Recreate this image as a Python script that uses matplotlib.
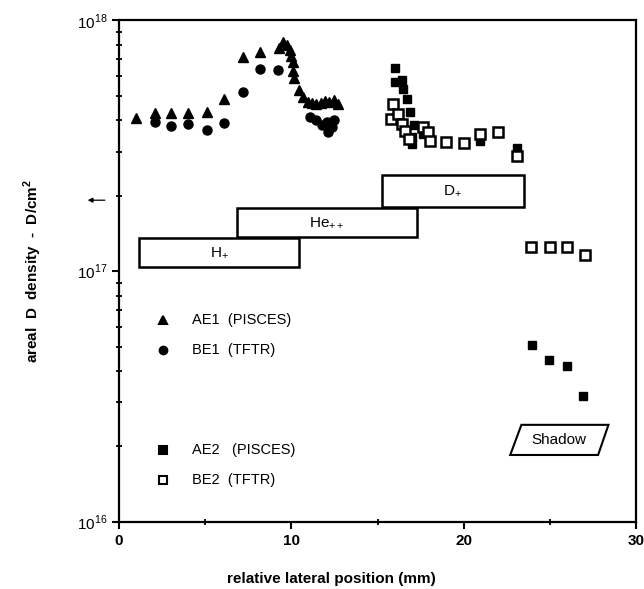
import matplotlib.pyplot as plt
from matplotlib.patches import Rectangle, Polygon

plt.rcParams['font.family'] = ['Liberation Sans', 'DejaVu Sans']
plt.rcParams['mathtext.fontset'] = 'custom'
plt.rcParams['mathtext.rm'] = 'Liberation Sans'
plt.rcParams['mathtext.bf'] = 'Liberation Sans:bold'

# AE1 (PISCES) - triangles
ae1_x = [1.0, 2.1, 3.0, 4.0, 5.1, 6.1, 7.2, 8.2, 9.3, 9.5, 9.75, 9.9, 10.0,
         10.1, 10.1, 10.15, 10.45, 10.7, 10.95, 11.2, 11.45, 11.7, 11.95,
         12.2, 12.45, 12.7]
ae1_y = [4.08e17, 4.26e17, 4.26e17, 4.26e17, 4.3e17, 4.85e17, 7.14e17,
         7.48e17, 7.76e17, 8.2e17, 7.98e17, 7.6e17, 7.2e17, 6.8e17, 6.3e17,
         5.9e17, 5.27e17, 4.95e17, 4.75e17, 4.68e17, 4.64e17, 4.68e17,
         4.77e17, 4.72e17, 4.8e17, 4.64e17]

# BE1 (TFTR) - circles
be1_x = [2.1, 3.0, 4.0, 5.1, 6.1, 7.2, 8.2, 9.2, 11.1, 11.45, 11.75, 12.05,
         12.35, 12.45, 12.15]
be1_y = [3.93e17, 3.79e17, 3.86e17, 3.65e17, 3.89e17, 5.17e17, 6.4e17,
         6.34e17, 4.11e17, 4.0e17, 3.82e17, 3.93e17, 3.75e17, 4.0e17,
         3.58e17]

# AE2 (PISCES) - filled squares
ae2_x = [16.0, 16.0, 16.4, 16.5, 16.7, 16.9, 17.1, 17.0, 17.0, 17.65,
         20.95, 23.1, 23.95, 24.95, 26.0, 26.95]
ae2_y = [6.44e17, 5.69e17, 5.78e17, 5.31e17, 4.88e17, 4.31e17, 3.82e17,
         3.43e17, 3.22e17, 3.53e17, 3.32e17, 3.09e17, 5.09e16, 4.44e16,
         4.18e16, 3.19e16]

# BE2 (TFTR) - open squares
be2_x = [15.9, 15.8, 16.2, 16.4, 16.6, 16.8, 17.65, 17.95, 18.05, 19.0,
         20.0, 20.95, 22.0, 23.1, 23.9, 25.0, 26.0, 27.05]
be2_y = [4.66e17, 4.06e17, 4.25e17, 3.87e17, 3.64e17, 3.38e17, 3.76e17,
         3.59e17, 3.32e17, 3.27e17, 3.24e17, 3.53e17, 3.59e17, 2.89e17,
         1.25e17, 1.25e17, 1.25e17, 1.16e17]

# beam ranges: label, x0, x1, y0, y1
beams = [
    ("H$_{+}$", 1.15, 10.45, 1.04e17, 1.358e17),
    ("He$_{++}$", 6.85, 17.3, 1.37e17, 1.786e17),
    ("D$_{+}$", 15.25, 23.5, 1.80e17, 2.42e17),
]

fig = plt.figure(figsize=(6.44, 5.89), dpi=100)
ax = fig.add_axes([0.1848, 0.1138, 0.8028, 0.8514])
ax.set_yscale('log')
ax.set_xlim(0, 30)
ax.set_ylim(1e16, 1e18)

ax.plot(ae1_x, ae1_y, '^', color='black', ms=7, ls='none')
ax.plot(be1_x, be1_y, 'o', color='black', ms=6.5, ls='none')
ax.plot(ae2_x, ae2_y, 's', color='black', ms=6, ls='none')
ax.plot(be2_x, be2_y, 's', mfc='white', mec='black', mew=1.8, ms=6.5,
        ls='none')

for label, x0, x1, y0, y1 in beams:
    ax.add_patch(Rectangle((x0, y0), x1 - x0, y1 - y0, fill=True,
                           facecolor='white', edgecolor='black', lw=1.8,
                           zorder=3))
    ax.text((x0 + x1) / 2, (y0 * y1) ** 0.5, label, ha='center',
            va='center', fontsize=11, zorder=4)

shadow = Polygon([(22.7, 1.85e16), (23.35, 2.44e16), (28.4, 2.44e16),
                  (27.8, 1.85e16)], closed=True, facecolor='white',
                 edgecolor='black', lw=1.5)
ax.add_patch(shadow)
ax.text(25.55, 2.12e16, "Shadow", ha='center', va='center', fontsize=11)

# key, drawn by hand to keep the gap between the two pairs
key = [
    ('^', 'black', "AE1  (PISCES)", 0.403),
    ('o', 'black', "BE1  (TFTR)", 0.343),
    ('s', 'black', "AE2   (PISCES)", 0.1436),
    ('s', 'white', "BE2  (TFTR)", 0.0837),
]
for marker, face, text, ky in key:
    ax.plot([0.085], [ky], marker, transform=ax.transAxes, mfc=face,
            mec='black', mew=1.5, ms=5.5, clip_on=False)
    ax.text(0.141, ky, text, transform=ax.transAxes, va='center',
            fontsize=10.5)

ax.annotate('', xy=(-0.066, 1.92e17), xytext=(-0.022, 1.92e17),
            xycoords=('axes fraction', 'data'),
            textcoords=('axes fraction', 'data'),
            arrowprops=dict(arrowstyle='-|>', color='black', lw=0.9,
                            mutation_scale=7),
            annotation_clip=False)

for side in ['left', 'bottom', 'top', 'right']:
    ax.spines[side].set_linewidth(1.6)

ax.set_xticks([0, 10, 20, 30])
ax.set_xticks([5, 15, 25], minor=True)
ax.set_xticklabels(['0', '10', '20', '30'], fontweight='bold', fontsize=11)
ax.set_yticks([1e16, 1e17, 1e18])
ax.set_yticklabels(['10$^{16}$', '10$^{17}$', '10$^{18}$'], fontsize=11)
ax.tick_params(axis='both', which='major', direction='out', length=5,
               width=1.5)
ax.tick_params(axis='both', which='minor', direction='inout', length=5,
               width=1.3)
ax.tick_params(axis='y', which='minor', labelleft=False)

ax.set_xlabel("relative lateral position (mm)", fontweight='bold',
              fontsize=11)
ax.xaxis.set_label_coords(0.41, -0.10)
ax.set_ylabel("areal  D  density  -  D/cm$^{\\mathbf{2}}$",
              fontweight='bold', fontsize=11)
ax.yaxis.set_label_coords(-0.145, 0.5)

fig.savefig('out.png', dpi=100)
